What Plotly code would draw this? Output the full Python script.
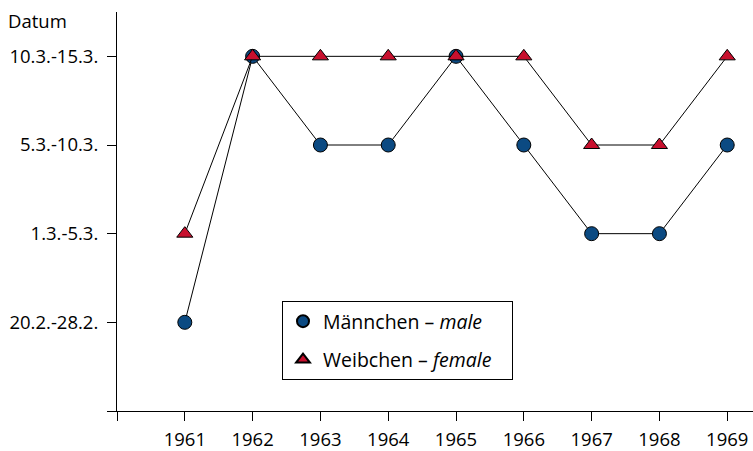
import plotly.graph_objects as go

years = [1961, 1962, 1963, 1964, 1965, 1966, 1967, 1968, 1969]
male = [1, 4, 3, 3, 4, 3, 2, 2, 3]
female = [2, 4, 4, 4, 4, 4, 3, 3, 4]
y_labels = ["", "20.2.-28.2.", "1.3.-5.3.", "5.3.-10.3.", "10.3.-15.3."]
x_ticks = [1960] + years
x_labels = [""] + [str(y) for y in years]
series_names = ["Männchen – <i>male</i>", "Weibchen – <i>female</i>"]

FONT = "Open Sans, Noto Sans, sans-serif"
FS = 18.5
W, H = 753, 451
L, R, T, B = 117, 0, 12, 40
PW, PH = W - L - R, H - T - B

male_marker = dict(symbol="circle", size=14, color="#0b4a82", line=dict(color="black", width=1))
female_marker = dict(symbol="triangle-up", size=14, color="#c8102e", line=dict(color="black", width=1))

fig = go.Figure()
fig.add_trace(go.Scatter(x=years, y=male, mode="lines+markers", showlegend=False,
                         line=dict(color="black", width=1), marker=male_marker))
fig.add_trace(go.Scatter(x=years, y=female, mode="lines+markers", showlegend=False,
                         line=dict(color="black", width=1), marker=female_marker))
# legend entries (markers only)
fig.add_trace(go.Scatter(x=[None], y=[None], mode="markers", name=series_names[0] + "   ",
                         marker=male_marker, legendgroup="m"))
fig.add_trace(go.Scatter(x=[None], y=[None], mode="markers", name=series_names[1] + "   ",
                         marker=female_marker, legendgroup="f"))

fig.update_layout(
    width=W, height=H,
    margin=dict(l=L, r=R, t=T, b=B, autoexpand=False),
    paper_bgcolor="white", plot_bgcolor="white",
    font=dict(family=FONT, size=FS, color="black"),
    showlegend=True,
    legend=dict(
        x=(282 - L) / PW, y=(H - B - 301) / PH,
        xanchor="left", yanchor="top",
        bordercolor="black", borderwidth=1, bgcolor="white",
        font=dict(family=FONT, size=19.5),
        tracegroupgap=10, itemsizing="constant", itemwidth=30,
    ),
    xaxis=dict(
        range=[1960, 1969.38], tickmode="array", tickvals=x_ticks, ticktext=x_labels,
        showgrid=False, zeroline=False, showline=True, linecolor="black", linewidth=1,
        ticks="outside", ticklen=9, tickcolor="black", tickwidth=1,
        tickfont=dict(family=FONT, size=FS), automargin=False, ticklabelstandoff=3,
    ),
    yaxis=dict(
        range=[0, 4.5], tickmode="array", tickvals=[0, 1, 2, 3, 4], ticktext=y_labels,
        showgrid=False, zeroline=False, showline=True, linecolor="black", linewidth=1,
        ticks="outside", ticklen=9, tickcolor="black", tickwidth=1,
        tickfont=dict(family=FONT, size=FS), automargin=False, ticklabelstandoff=5,
    ),
    annotations=[dict(
        text="Datum", xref="paper", yref="paper",
        x=(6 - L) / PW, y=(H - B - 20) / PH,
        xanchor="left", yanchor="middle", showarrow=False,
        font=dict(family=FONT, size=FS),
    )],
)

fig.write_html("out.html", config={"displayModeBar": False},
               post_script="document.body.style.margin='0';")
